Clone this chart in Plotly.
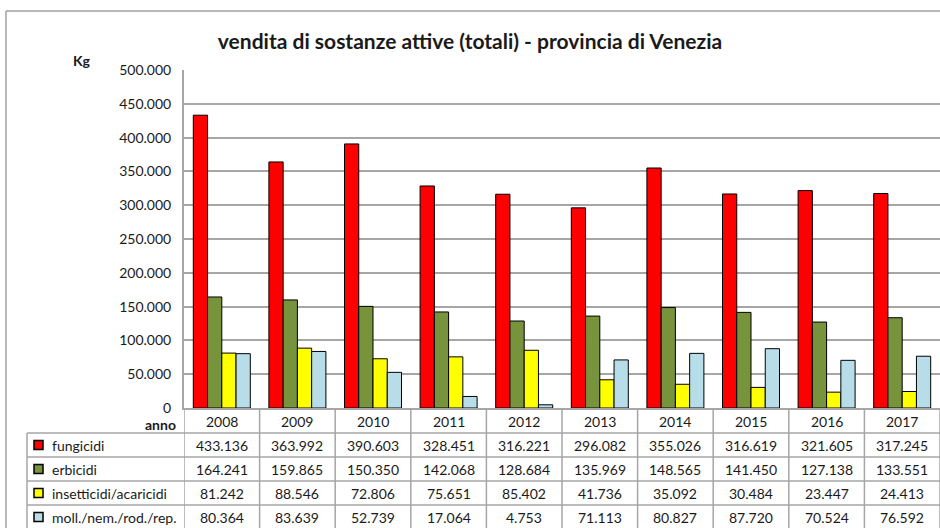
import plotly.graph_objects as go

years = ["2008", "2009", "2010", "2011", "2012", "2013", "2014", "2015", "2016", "2017"]
series_names = ["fungicidi", "erbicidi", "insetticidi/acaricidi", "moll./nem./rod./rep."]
fungicidi = [433136, 363992, 390603, 328451, 316221, 296082, 355026, 316619, 321605, 317245]
erbicidi = [164241, 159865, 150350, 142068, 128684, 135969, 148565, 141450, 127138, 133551]
insetticidi = [81242, 88546, 72806, 75651, 85402, 41736, 35092, 30484, 23447, 24413]
molluschicidi = [80364, 83639, 52739, 17064, 4753, 71113, 80827, 87720, 70524, 76592]
colors = ["#FF0000", "#77933C", "#FFFF00", "#B7DEE8"]
y_ticks = [0, 50000, 100000, 150000, 200000, 250000, 300000, 350000, 400000, 450000, 500000]

series = [fungicidi, erbicidi, insetticidi, molluschicidi]

W, H = 940, 528
L, R, T, B = 184, 0, 70, 120
pw, ph = W - L - R, H - T - B
FONT = "Lato"
GRID = "#a6a6a6"
TXT = "#1a1a1a"


def px_x(px):
    return (px - L) / pw


def px_y(py):
    return (H - B - py) / ph


def fmt(v):
    return f"{v:,}".replace(",", ".")


fig = go.Figure()
for name, vals, c in zip(series_names, series, colors):
    fig.add_trace(go.Bar(x=years, y=vals, name=name, marker_color=c,
                         marker_line_color="black", marker_line_width=1))

shapes = []
annotations = []

row_tops = [409, 433, 457, 481, 505]
row_centers = [421, 445, 469, 493, 517]
bottom_px = 540
left_px = 27

for rt in row_tops[1:]:
    shapes.append(dict(type="line", xref="paper", yref="paper", x0=px_x(left_px), x1=1,
                       y0=px_y(rt), y1=px_y(rt), line=dict(color=GRID, width=1.5)))
for i in range(len(years) + 1):
    shapes.append(dict(type="line", xref="x", yref="paper", x0=i - 0.5, x1=i - 0.5,
                       y0=0, y1=px_y(bottom_px), line=dict(color=GRID, width=1.5)))
shapes.append(dict(type="line", xref="paper", yref="paper", x0=px_x(left_px), x1=px_x(left_px),
                   y0=px_y(row_tops[1]), y1=px_y(bottom_px), line=dict(color=GRID, width=1.5)))
shapes.append(dict(type="line", xref="paper", yref="paper", x0=px_x(6), x1=px_x(6),
                   y0=px_y(11), y1=px_y(bottom_px), line=dict(color="#a0a0a0", width=1.5)))
shapes.append(dict(type="line", xref="paper", yref="paper", x0=px_x(6), x1=1.01,
                   y0=px_y(11), y1=px_y(11), line=dict(color="#a0a0a0", width=1.5)))

txt_font = dict(family=FONT, size=14, color=TXT)
for i, yr in enumerate(years):
    annotations.append(dict(x=i, xref="x", y=px_y(row_centers[0]), yref="paper", text=yr,
                            yanchor="middle", showarrow=False, font=txt_font))
for r, vals in enumerate(series):
    yc = px_y(row_centers[r + 1])
    for i, v in enumerate(vals):
        annotations.append(dict(x=i, xref="x", y=yc, yref="paper", text=fmt(v),
                                yanchor="middle", showarrow=False, font=txt_font))
    shapes.append(dict(type="rect", xref="paper", yref="paper",
                       x0=px_x(34), x1=px_x(43), y0=px_y(row_centers[r + 1] - 4.5),
                       y1=px_y(row_centers[r + 1] + 4.5),
                       fillcolor=colors[r], line=dict(color="black", width=1.5)))
    annotations.append(dict(x=px_x(50), xref="paper", y=yc, yref="paper", text=series_names[r],
                            xanchor="left", yanchor="middle", showarrow=False, font=txt_font))

annotations.append(dict(x=px_x(178), xref="paper", y=px_y(424.5), yref="paper", text="<b>anno</b>",
                        xanchor="right", yanchor="middle", showarrow=False, font=txt_font))
annotations.append(dict(x=px_x(82), xref="paper", y=px_y(60), yref="paper", text="<b>Kg</b>",
                        xanchor="center", yanchor="middle", showarrow=False, font=txt_font))

fig.update_layout(
    width=W, height=H,
    margin=dict(l=L, r=R, t=T, b=B, pad=0),
    paper_bgcolor="white", plot_bgcolor="white",
    separators=",.",
    barmode="group", bargap=0.246, bargroupgap=0,
    showlegend=False,
    title=dict(text="<b>vendita di sostanze attive (totali) - provincia di Venezia</b>",
               x=470 / W, xanchor="center", xref="container",
               y=1 - 42 / H, yanchor="middle", yref="container",
               font=dict(family=FONT, size=21, color=TXT)),
    font=dict(family=FONT, size=14, color=TXT),
    shapes=shapes,
    annotations=annotations,
)
fig.update_xaxes(type="category", showticklabels=False, showgrid=False, showline=True,
                 linecolor=GRID, linewidth=2, ticks="", range=[-0.5, len(years) - 0.5])
fig.update_yaxes(range=[0, 500000], tickvals=y_ticks, tickformat=",d", showgrid=True,
                 gridcolor=GRID, gridwidth=1.5, showline=True, linecolor=GRID, linewidth=2,
                 ticks="outside", ticklen=8, tickcolor="white", zeroline=False,
                 tickfont=dict(family=FONT, size=14, color=TXT))

fig.write_html("out.html", config={"displayModeBar": False},
               post_script="document.body.style.margin='0';")
